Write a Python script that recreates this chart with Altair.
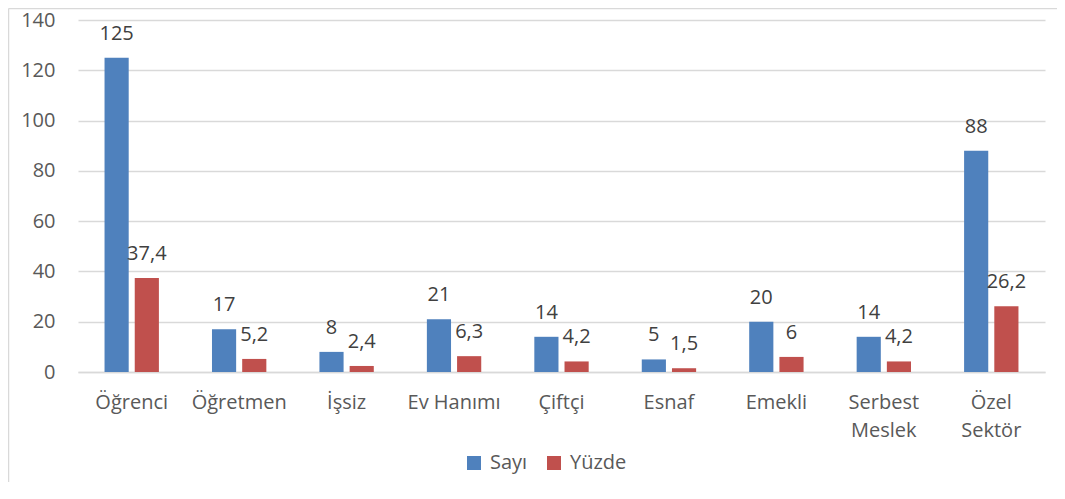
import altair as alt
import pandas as pd

categories = ["Öğrenci", "Öğretmen", "İşsiz", "Ev Hanımı", "Çiftçi", "Esnaf", "Emekli", "Serbest Meslek", "Özel Sektör"]
sayi = [125, 17, 8, 21, 14, 5, 20, 14, 88]
yuzde = [37.4, 5.2, 2.4, 6.3, 4.2, 1.5, 6, 4.2, 26.2]
series = ["Sayı", "Yüzde"]
colors = ["#4F81BD", "#C0504D"]
y_ticks = [0, 20, 40, 60, 80, 100, 120, 140]

rows = []
for c, s, y in zip(categories, sayi, yuzde):
    rows.append({"cat": c, "series": series[0], "value": s, "label": f"{s:g}".replace(".", ",")})
    rows.append({"cat": c, "series": series[1], "value": y, "label": f"{y:g}".replace(".", ",")})
df = pd.DataFrame(rows)

FONT = "Open Sans"

x_enc = alt.X(
    "cat:N", sort=categories, title=None,
    scale=alt.Scale(paddingInner=0.494, paddingOuter=0.247),
    axis=alt.Axis(
        labelAngle=0, labelFontSize=20, labelColor="#595959", labelFont=FONT,
        labelPadding=20, labelLineHeight=28, ticks=False, domain=True,
        domainColor="#d9d9d9", domainWidth=1.5, grid=False,
        labelExpr="datum.label == 'Serbest Meslek' ? ['Serbest', 'Meslek'] : datum.label == 'Özel Sektör' ? ['Özel', 'Sektör'] : datum.label",
    ),
)
xoff = alt.XOffset("series:N", sort=series, scale=alt.Scale(paddingInner=0.2, paddingOuter=0))
y_enc = alt.Y(
    "value:Q", title=None,
    scale=alt.Scale(domain=[0, 140], nice=False),
    axis=alt.Axis(
        values=y_ticks, labelFontSize=20, labelColor="#595959", labelFont=FONT,
        labelPadding=23, ticks=False, domain=False, gridColor="#d9d9d9", gridWidth=1.5,
    ),
)

bars = alt.Chart(df).mark_bar().encode(
    x=x_enc, xOffset=xoff, y=y_enc,
    color=alt.Color(
        "series:N", sort=series,
        scale=alt.Scale(domain=series, range=colors),
        legend=alt.Legend(
            title=None, orient="none", direction="horizontal", legendX=386, legendY=433,
            symbolType="square", symbolSize=196, symbolStrokeWidth=0,
            labelFontSize=20, labelColor="#595959", labelFont=FONT, columnPadding=16,
            labelOffset=6,
        ),
    ),
)

text = alt.Chart(df).mark_text(
    baseline="alphabetic", dy=-18, fontSize=20, color="#404040", font=FONT
).encode(x=x_enc, xOffset=xoff, y=y_enc, text="label:N")

frame_df = pd.DataFrame({"k": [0]})
left_rule = alt.Chart(frame_df).mark_rule(color="#d9d9d9", strokeWidth=1.5, clip=False).encode(
    x=alt.value(-69.5), y=alt.value(-11.5), y2=alt.value(470)
)
top_rule = alt.Chart(frame_df).mark_rule(color="#d9d9d9", strokeWidth=1.5, clip=False).encode(
    x=alt.value(-69.5), x2=alt.value(985), y=alt.value(-11.5)
)

chart = alt.layer(bars, text, left_rule, top_rule).properties(
    width=967, height=352,
    autosize=alt.AutoSizeParams(type="none"),
    padding={"left": 70, "top": 12, "right": 12, "bottom": 110},
).configure_view(stroke=None)

chart.save("out.html", embed_options={"renderer": "svg", "actions": False})
